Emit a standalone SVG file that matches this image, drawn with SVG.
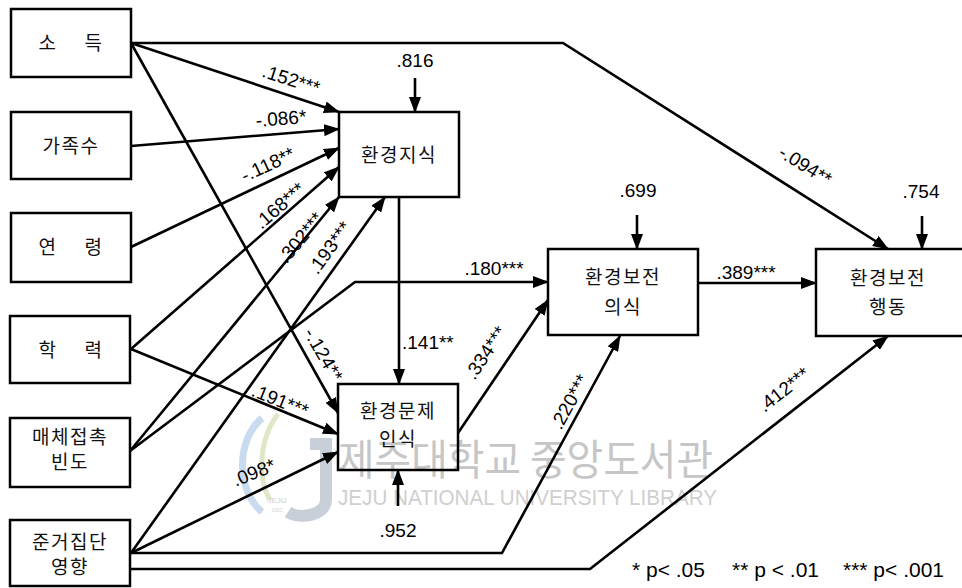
<svg xmlns="http://www.w3.org/2000/svg" width="962" height="588" viewBox="0 0 962 588">
<style>
.box{fill:none;stroke:#000;stroke-width:2.5}
.ln{fill:none;stroke:#000;stroke-width:2.6}
.kr{font-family:"Noto Sans CJK KR","Noto Sans",sans-serif;font-size:19px;fill:#111;text-anchor:middle;letter-spacing:1.5px}
.lb{font-family:"Liberation Sans",Arial,sans-serif;font-size:19px;fill:#000;text-anchor:middle}
.wm{font-family:"Noto Sans CJK KR",sans-serif;fill:#c6c6c6}
</style>
<defs>
<marker id="ah" markerWidth="16" markerHeight="12" refX="15" refY="6" orient="auto" markerUnits="userSpaceOnUse"><path d="M0,0 L16,6 L0,12 z" fill="#000"/></marker>
</defs>
<rect width="962" height="588" fill="#fff"/>
<g id="watermark">
<path d="M262,418 C236,440 236,490 262,512" fill="none" stroke="#c9dbee" stroke-width="7"/>
<path d="M278,414 C258,440 258,480 270,500" fill="none" stroke="#dfe8c6" stroke-width="5"/>
<path d="M310,444 L326,444 L326,500 C326,515 300,520 288,512" fill="none" stroke="#c9cfd9" stroke-width="12"/>
<text x="277" y="503" font-family="Liberation Sans,Arial,sans-serif" font-size="8" fill="#cfcfcf" text-anchor="middle">JEJU</text>
<text x="277" y="512" font-family="Liberation Sans,Arial,sans-serif" font-size="5" fill="#d6d6d6" text-anchor="middle">1952</text>
<text class="wm" x="338" y="475" font-size="42" textLength="375" lengthAdjust="spacingAndGlyphs">제주대학교 중앙도서관</text>
<text x="338" y="505" font-family="Liberation Sans,Arial,sans-serif" font-size="22" fill="#cfcfcf" textLength="379" lengthAdjust="spacingAndGlyphs">JEJU NATIONAL UNIVERSITY  LIBRARY</text>
</g>
<g id="connectors">
<path class="ln" d="M131,43 L339,112" marker-end="url(#ah)"/>
<path class="ln" d="M131,43 L563,43 L888,249" marker-end="url(#ah)"/>
<path class="ln" d="M131,43 L338,413" marker-end="url(#ah)"/>
<path class="ln" d="M131,146 L339,129" marker-end="url(#ah)"/>
<path class="ln" d="M131,247 L339,148" marker-end="url(#ah)"/>
<path class="ln" d="M131,349 L339,167" marker-end="url(#ah)"/>
<path class="ln" d="M131,349 L338,434" marker-end="url(#ah)"/>
<path class="ln" d="M130,451 L339,197" marker-end="url(#ah)"/>
<path class="ln" d="M130,451 L355,282 L548,282" marker-end="url(#ah)"/>
<path class="ln" d="M131,553 L385,197" marker-end="url(#ah)"/>
<path class="ln" d="M131,553 L338,452" marker-end="url(#ah)"/>
<path class="ln" d="M131,553 L502,553 L620,336" marker-end="url(#ah)"/>
<path class="ln" d="M130,569 L590,569 L888,336" marker-end="url(#ah)"/>
<path class="ln" d="M399,197 L399,384" marker-end="url(#ah)"/>
<path class="ln" d="M458,433 L548,300" marker-end="url(#ah)"/>
<path class="ln" d="M698,283 L816,283" marker-end="url(#ah)"/>
<path class="ln" d="M415,78 L415,112" marker-end="url(#ah)"/>
<path class="ln" d="M637,215 L637,249" marker-end="url(#ah)"/>
<path class="ln" d="M922,216 L922,249" marker-end="url(#ah)"/>
<path class="ln" d="M398,506 L398,470" marker-end="url(#ah)"/>
</g>
<g id="labels">
<text class="lb" transform="translate(291,80) rotate(18)" y="6">.152***</text>
<text class="lb" transform="translate(281,119) rotate(-4.5)" y="6">-.086*</text>
<text class="lb" transform="translate(268,165) rotate(-25)" y="6">-.118**</text>
<text class="lb" transform="translate(280,206) rotate(-41)" y="6">.168***</text>
<text class="lb" transform="translate(301,238) rotate(-50)" y="6">.302***</text>
<text class="lb" transform="translate(330,248) rotate(-54)" y="6">.193***</text>
<text class="lb" transform="translate(323,355) rotate(60)" y="6">-.124**</text>
<text class="lb" transform="translate(280,401) rotate(22)" y="6">.191***</text>
<text class="lb" transform="translate(254,473) rotate(-22)" y="6">.098*</text>
<text class="lb" transform="translate(486,353) rotate(-56)" y="6">.334***</text>
<text class="lb" transform="translate(570,402) rotate(-61)" y="6">.220***</text>
<text class="lb" transform="translate(784,390) rotate(-38)" y="6">.412***</text>
<text class="lb" transform="translate(805,166) rotate(32)" y="6">-.094**</text>
<text class="lb" x="494" y="275">.180***</text>
<text class="lb" x="746" y="279">.389***</text>
<text class="lb" x="402" y="349" style="text-anchor:start">.141**</text>
<text class="lb" x="415" y="67">.816</text>
<text class="lb" x="638" y="197">.699</text>
<text class="lb" x="921" y="198">.754</text>
<text class="lb" x="398" y="537">.952</text>
<text class="lb" y="577" style="text-anchor:start;font-size:21px"><tspan x="632">* p&lt; .05</tspan><tspan x="732">** p &lt; .01</tspan><tspan x="843">*** p&lt; .001</tspan></text>
</g>
<g id="n-income"><rect class="box" x="11" y="9" width="120" height="68"/><text class="kr" x="48" y="50">소</text><text class="kr" x="94" y="50">득</text></g>
<g id="n-family"><rect class="box" x="11" y="112" width="120" height="67"/><text class="kr" x="71" y="153">가족수</text></g>
<g id="n-age"><rect class="box" x="11" y="213" width="120" height="69"/><text class="kr" x="48" y="254">연</text><text class="kr" x="94" y="254">령</text></g>
<g id="n-edu"><rect class="box" x="10" y="316" width="120" height="67"/><text class="kr" x="48" y="357">학</text><text class="kr" x="94" y="357">력</text></g>
<g id="n-media"><rect class="box" x="10" y="418" width="120" height="69"/><text class="kr" x="70" y="444"><tspan x="70">매체접촉</tspan><tspan x="70" dy="25">빈도</tspan></text></g>
<g id="n-ref"><rect class="box" x="10" y="520" width="120" height="66"/><text class="kr" x="70" y="549"><tspan x="70">준거집단</tspan><tspan x="70" dy="25">영향</tspan></text></g>
<g id="n-knowledge"><rect class="box" x="339" y="112" width="120" height="85"/><text class="kr" x="399" y="162">환경지식</text></g>
<g id="n-problem"><rect class="box" x="338" y="384" width="120" height="86"/><text class="kr" x="398" y="418"><tspan x="398">환경문제</tspan><tspan x="398" dy="28">인식</tspan></text></g>
<g id="n-awareness"><rect class="box" x="548" y="249" width="150" height="86"/><text class="kr" x="623" y="284"><tspan x="623">환경보전</tspan><tspan x="623" dy="30">의식</tspan></text></g>
<g id="n-behavior"><rect class="box" x="816" y="249" width="152" height="87"/><text class="kr" x="888" y="285"><tspan x="888">환경보전</tspan><tspan x="888" dy="29">행동</tspan></text></g>
</svg>
